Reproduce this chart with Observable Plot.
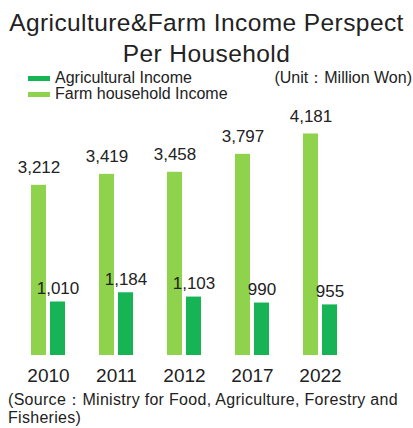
<!DOCTYPE html>
<html>
<head>
<meta charset="utf-8">
<script src="https://cdn.jsdelivr.net/npm/d3@7"></script>
<script src="https://cdn.jsdelivr.net/npm/@observablehq/plot@0.6"></script>
<style>
  html, body { margin: 0; padding: 0; background: #fff; }
  body { width: 413px; height: 428px; overflow: hidden; font-family: "Liberation Sans", Arial, sans-serif; color: #222; }
  #title { height: 68px; box-sizing: border-box; padding-top: 7px; font-size: 24.5px; letter-spacing: 0.42px; line-height: 31px; text-align: center; white-space: nowrap; }
  #legend { position: relative; height: 36px; box-sizing: border-box; padding-top: 2px; font-size: 16px; }
  .row { height: 16px; line-height: 16px; position: relative; padding-left: 55px; white-space: nowrap; }
  .sw { position: absolute; left: 28px; top: 6px; width: 22px; height: 5px; }
  #unit { position: absolute; right: 1px; top: 2px; line-height: 16px; font-size: 16px; white-space: nowrap; }
  #chart svg { display: block; }
  #caption { padding-top: 3px; font-size: 16px; letter-spacing: 0.3px; line-height: 18px; padding-left: 8px; white-space: nowrap; }
</style>
</head>
<body>
<div id="title">Agriculture&amp;Farm Income Perspect<br>Per Household</div>
<div id="legend">
  <div class="row"><span class="sw" id="sw1"></span>Agricultural Income</div>
  <div class="row"><span class="sw" id="sw2"></span>Farm household Income</div>
  <div id="unit">(Unit：Million Won)</div>
</div>
<div id="chart"></div>
<div id="caption">(Source：Ministry for Food, Agriculture, Forestry and<br>Fisheries)</div>
<script>
const years = ["2010", "2011", "2012", "2017", "2022"];
const farmIncome = [3212, 3419, 3458, 3797, 4181];
const agriIncome = [1010, 1184, 1103, 990, 955];
const seriesNames = ["Agricultural Income", "Farm household Income"];
const colors = ["#17b455", "#8fd24b"];

document.getElementById("sw1").style.background = colors[0];
document.getElementById("sw2").style.background = colors[1];

const data = years.map((y, i) => ({year: y, farm: farmIncome[i], agri: agriIncome[i]}));
const fmt = d3.format(",");

const chart = Plot.plot({
  width: 413,
  height: 284,
  marginLeft: 14,
  marginRight: 59,
  marginTop: 20,
  marginBottom: 33,
  style: {fontFamily: "Liberation Sans, Arial, sans-serif", color: "#222", background: "transparent"},
  x: {type: "band", domain: years, padding: 0},
  y: {domain: [0, 4360], axis: null},
  marks: [
    Plot.barY(data, {x: "year", y: "farm", fill: colors[1], insetLeft: 26.5, insetRight: 26.5, dx: -9.5}),
    Plot.barY(data, {x: "year", y: "agri", fill: colors[0], insetLeft: 26.5, insetRight: 26.5, dx: 9.5}),
    Plot.text(data, {x: "year", y: "farm", text: d => fmt(d.farm), dx: -9.5, dy: -12, lineAnchor: "bottom", fontSize: 17, fill: "#222"}),
    Plot.text(data, {x: "year", y: "agri", text: d => fmt(d.agri), dx: 9.5, dy: -8, lineAnchor: "bottom", fontSize: 17, fill: "#222"}),
    Plot.axisX({tickSize: 0, tickPadding: 13, fontSize: 19, label: null, fill: "#222"})
  ]
});
document.getElementById("chart").appendChild(chart);
</script>
</body>
</html>
